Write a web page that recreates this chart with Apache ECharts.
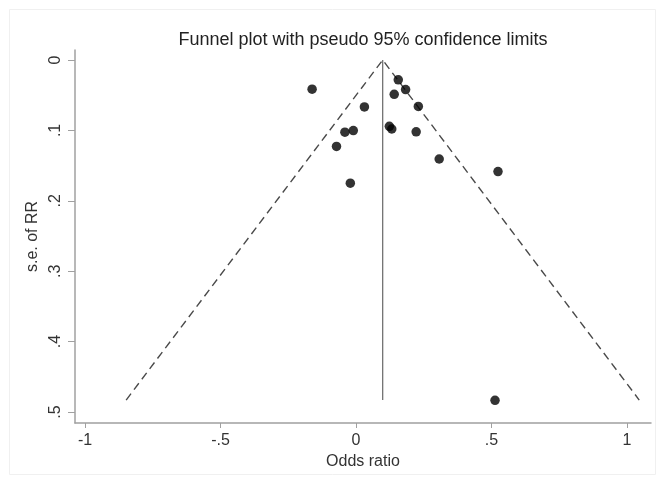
<!DOCTYPE html>
<html>
<head>
<meta charset="utf-8">
<script src="https://cdn.jsdelivr.net/npm/echarts@6/dist/echarts.min.js"></script>
<style>
html,body{margin:0;padding:0;background:#fff;}
#chart{width:661px;height:479px;}
</style>
</head>
<body>
<div id="chart"></div>
<script>
// Study estimates: log odds ratio (x) and standard error (y)
var oddsRatio = [-0.162, 0.156, 0.183, 0.141, 0.031, 0.230, -0.041, -0.010, 0.123, 0.132, 0.222, -0.072, 0.307, 0.524, -0.021, 0.513];
var seRR      = [0.0414, 0.0282, 0.0420, 0.0488, 0.0667, 0.0660, 0.1025, 0.1002, 0.0942, 0.0980, 0.1020, 0.1228, 0.1406, 0.1584, 0.1750, 0.4834];
// Pooled estimate and funnel extent
var pooledEffect = 0.0985;
var maxSE = 0.483;
var zValue = 1.96;
// Tick labels
var xTicks = [-1, -0.5, 0, 0.5, 1];
var yTicks = [0, 0.1, 0.2, 0.3, 0.4, 0.5];

var points = oddsRatio.map(function (v, i) { return [v, seRR[i]]; });
var funnel = [
  [pooledEffect - zValue * maxSE, maxSE],
  [pooledEffect, 0],
  [pooledEffect + zValue * maxSE, maxSE]
];
var vline = [[pooledEffect, 0], [pooledEffect, maxSE]];

function fmt(v) {
  if (v === 0) return '0';
  var s = String(v);
  return s.replace('0.', '.');
}

var font = 'Liberation Sans';
var chart = echarts.init(document.getElementById('chart'), null, {renderer: 'canvas'});
chart.setOption({
  backgroundColor: '#fff',
  animation: false,
  title: {
    text: 'Funnel plot with pseudo 95% confidence limits',
    left: 358,
    top: 26,
    textAlign: 'center',
    textStyle: {fontFamily: font, fontSize: 18, fontWeight: 'normal', color: '#222'}
  },
  graphic: [{
    type: 'rect',
    shape: {x: 9.5, y: 9.5, width: 646, height: 465},
    style: {fill: 'none', stroke: '#f0f0f0', lineWidth: 1},
    silent: true
  }],
  grid: {left: 75, right: 10, top: 50, bottom: 56},
  xAxis: {
    type: 'value',
    min: -1.037,
    max: 1.0886,
    name: 'Odds ratio',
    nameLocation: 'middle',
    nameGap: 30,
    nameTextStyle: {fontFamily: font, fontSize: 16, color: '#333'},
    axisLine: {onZero: false, lineStyle: {color: '#a0a0a0', width: 1.5}},
    axisTick: {show: true, length: 5, customValues: xTicks, lineStyle: {color: '#a0a0a0'}},
    axisLabel: {customValues: xTicks, formatter: fmt, margin: 10, fontFamily: font, fontSize: 16, color: '#333'},
    splitLine: {show: false}
  },
  yAxis: {
    type: 'value',
    inverse: true,
    min: -0.0142,
    max: 0.5156,
    name: 's.e. of RR',
    nameLocation: 'middle',
    nameGap: 28,
    nameTextStyle: {fontFamily: font, fontSize: 16, color: '#333'},
    axisLine: {show: true, onZero: false, lineStyle: {color: '#a0a0a0', width: 1.5}},
    axisTick: {show: true, length: 7, customValues: yTicks, lineStyle: {color: '#a0a0a0'}},
    axisLabel: {customValues: yTicks, formatter: fmt, rotate: 90, margin: 11, fontFamily: font, fontSize: 16, color: '#333'},
    splitLine: {show: false}
  },
  series: [
    {
      type: 'line',
      data: funnel,
      symbol: 'none',
      lineStyle: {color: '#4a4a4a', width: 1.4, type: [8, 5]},
      silent: true,
      z: 1
    },
    {
      type: 'line',
      data: vline,
      symbol: 'none',
      lineStyle: {color: '#666', width: 1.2},
      silent: true,
      z: 1
    },
    {
      type: 'scatter',
      data: points,
      symbol: 'circle',
      symbolSize: 9.5,
      itemStyle: {color: '#000'},
      z: 3
    }
  ]
});
</script>
</body>
</html>
